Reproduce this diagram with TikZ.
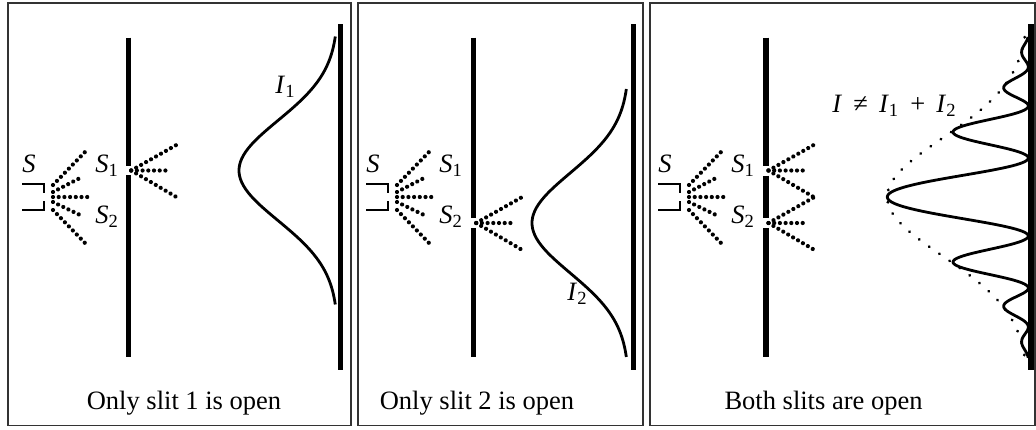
\documentclass[tikz,border=0pt]{standalone}
\usepackage{fontspec}
\setmainfont{Liberation Serif}
\usepackage{tikz}
\usetikzlibrary{decorations.markings}
\newcommand\slitlbl[2]{\textit{#1}\textsubscript{#2}}
\newcommand\gap{\hspace{0.42em}}
\tikzset{ %
  ,every node/.style={font=\fontsize{13.25}{16}\selectfont, inner sep=0}
  ,frame/.style={draw=black!80, line width=0.8pt}
  ,source/.style={line width=1pt}
  ,wall/.style={line width=2.65pt}
  ,screen/.style={line width=2.8pt}
  ,ray/.style={decoration={markings,
      mark=between positions 0 and 1 step 2.85pt with {\fill (0,0) circle (1.05pt);}}, decorate}
  ,curve/.style={line width=1.4pt}
  ,envelope/.style={line width=1.4pt, line cap=round, dash pattern=on 0.2pt off 6pt}
  ,lbl/.style={anchor=base west}
  ,caption/.style={anchor=base}
}
\begin{document}
\begin{tikzpicture}[x=0.5pt, y=-0.5pt]
  \useasboundingbox (0,0) rectangle (1036,429);
  % frames
  \draw[frame] (8,3) rectangle (351,425.5);
  \draw[frame] (358,3) rectangle (643,425.5);
  \draw[frame] (650,3) rectangle (1035,425.5);
  % the source, the same in every panel
  \foreach \ox/\n in {53/1, 397/2, 689/3} {
    \draw[source] ({\ox-31},184) -- ({\ox-9},184) -- ({\ox-9},193)
                  ({\ox-9},201) -- ({\ox-9},210) -- ({\ox-31},210);
    \foreach \a/\b/\c in {-12/32/-45, -5/27/-19, 0/38/0, 5/27/18, 13/32/46}
      \path[ray] ({\ox},{197+(\a)}) -- ({\ox+\b},{197+(\c)});
    \node[lbl] (S\n) at ({\ox-31},172) {\textit{S}};
    \node[lbl] (Sa\n) at ({\ox+42},172) {\slitlbl{S}{1}};
    \node[lbl] (Sb\n) at ({\ox+42},223) {\slitlbl{S}{2}};
  }
  % walls with slits
  \draw[wall] (128.7,37.5) -- (128.7,166) (128.7,175) -- (128.7,357);
  \draw[wall] (473.7,37.5) -- (473.7,218) (473.7,228) -- (473.7,357);
  \draw[wall] (766,37.5) -- (766,166) (766,175.5) -- (766,218) (766,228) -- (766,357);
  \foreach \bx/\sy in {128.7/170.5, 473.7/223, 766/170.5, 766/223}
    \foreach \b/\c in {46/-26, 38/0, 46/27}
      \path[ray] ({\bx+2.5},\sy) -- ({\bx+2.5+\b},{\sy+(\c)});
  % screens
  \draw[screen] (340.5,24) -- (340.5,369.5);
  \draw[screen] (633.3,24) -- (633.3,369.5);
  \draw[screen] (1031.2,24) -- (1031.2,369.5);
  % patterns
  \draw[curve] plot[domain=-1.34:1.34, samples=80, smooth]
    ({338-99*exp(-2*\x*\x)}, {170.5+100*\x});
  \draw[curve] plot[domain=-1.34:1.34, samples=80, smooth]
    ({629-97*exp(-2*\x*\x)}, {223+100*\x});
  \draw[envelope] plot[domain=-1.6:1.6, samples=121, smooth]
    ({1028.3-141*exp(-1.43*\x*\x)}, {197+100*\x});
  \draw[curve] plot[domain=-1.6:1.61, samples=322]
    ({1028.3-141*exp(-1.43*\x*\x)*(cos(180*(1.007*abs(\x)+0.703*\x*\x)))^2}, {197+100*\x});
  % labels
  \node[lbl] (I1) at (275,93) {\slitlbl{I}{1}};
  \node[lbl] (I2) at (567,300) {\slitlbl{I}{2}};
  \node[lbl] (I) at (832,112) {\textit{I}\gap≠\gap\slitlbl{I}{1}\gap+\gap\slitlbl{I}{2}};
  \node[caption] (c1) at (184,409) {Only slit 1 is open};
  \node[caption] (c2) at (477,409) {Only slit 2 is open};
  \node[caption] (c3) at (823.5,409) {Both slits are open};
\end{tikzpicture}
\end{document}
